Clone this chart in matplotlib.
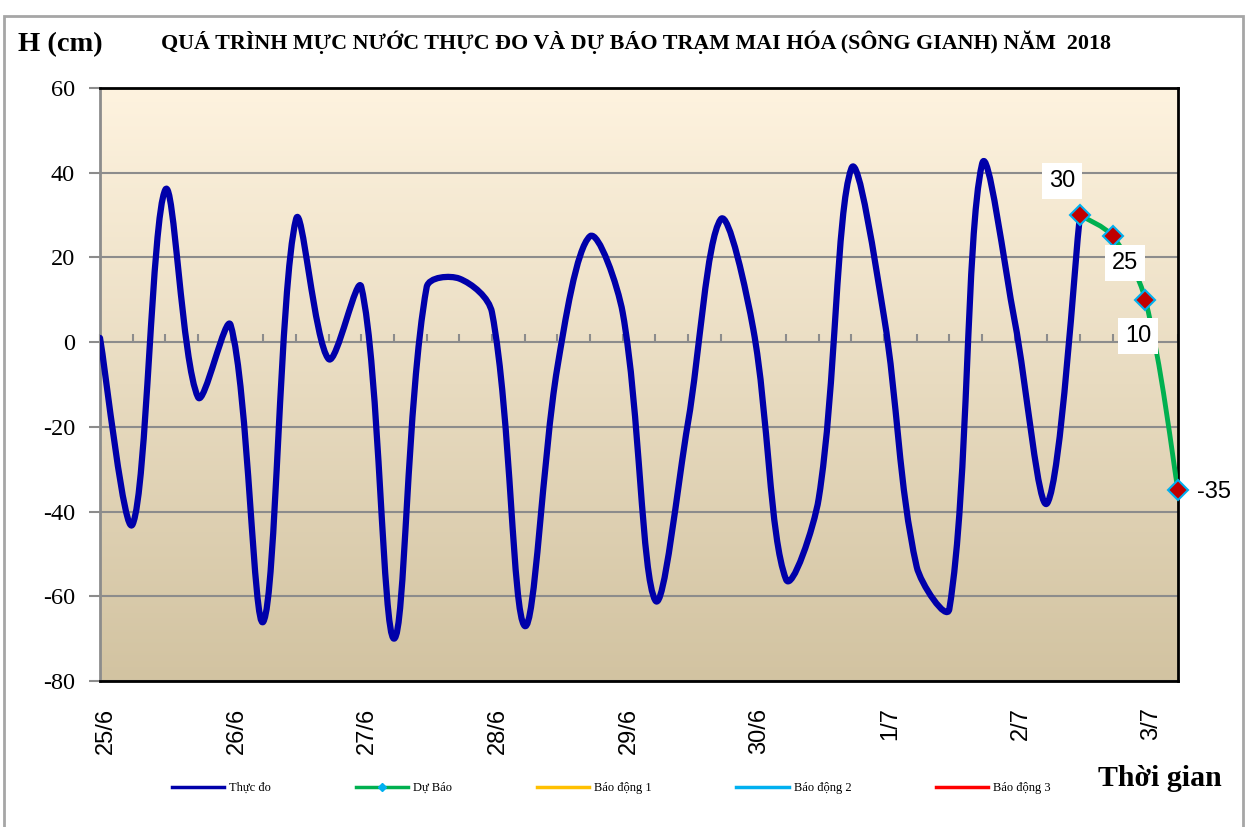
import numpy as np
import matplotlib
matplotlib.use('Agg')
import matplotlib.pyplot as plt
from matplotlib.path import Path
from matplotlib.patches import PathPatch, Rectangle
from matplotlib.lines import Line2D
from matplotlib.transforms import ScaledTranslation

plt.rcParams['axes.unicode_minus'] = False

# 6-hourly points, labels every 4 points (one per day)
days = ['25/6', '26/6', '27/6', '28/6', '29/6', '30/6', '1/7', '2/7', '3/7']
thuc_do = [1, -43, 36, -13, 4, -66, 29, -4, 13, -70, 13, 15, 7, -67, -6, 25, 7,
           -61, -19, 29, 3, -56, -37, 41, 6, -53, -63, 42, 5, -38, 30]
du_bao = [30, 25, 10, -35]
du_bao_start = 30
n_points = 34

serif = ['Liberation Serif', 'DejaVu Serif']
sans = ['Liberation Sans', 'DejaVu Sans']

# pixel size of one x step / one y unit, used for the smoothing weights
SX = 1078 / 33
SY = 593 / 140


def smooth_path(x, y, f=1 / 3):
    # excel-like smoothed line: bezier, tangents weighted by segment lengths
    p = np.column_stack([x, y]).astype(float)
    n = len(p)
    d = np.hypot(np.diff(p[:, 0]) * SX, np.diff(p[:, 1]) * SY)
    c_out = np.zeros_like(p)
    c_in = np.zeros_like(p)
    c_out[0] = p[0] + (p[1] - p[0]) / 6
    c_in[-1] = p[-1] - (p[-1] - p[-2]) / 6
    for i in range(1, n - 1):
        t = p[i + 1] - p[i - 1]
        tot = d[i - 1] + d[i]
        c_out[i] = p[i] + t * f * d[i] / tot
        c_in[i] = p[i] - t * f * d[i - 1] / tot
    verts = [p[0]]
    codes = [Path.MOVETO]
    for i in range(n - 1):
        verts += [c_out[i], c_in[i + 1], p[i + 1]]
        codes += [Path.CURVE4] * 3
    return Path(verts, codes)


fig = plt.figure(figsize=(12.49, 8.27), dpi=100)
fig.patch.set_facecolor('white')
ax = fig.add_axes([100 / 1249, 1 - 681 / 827, 1078 / 1249, 593 / 827])

ax.set_xlim(0, n_points - 1)
ax.set_ylim(-80, 60)

# gradient background
grad = np.linspace(0, 1, 256).reshape(-1, 1)
top = np.array([254, 243, 223]) / 255
bot = np.array([210, 195, 161]) / 255
img = top + (bot - top) * grad[..., None]
ax.imshow(img, extent=[0, n_points - 1, -80, 60], aspect='auto', zorder=0,
          origin='upper')

ax.set_yticks(np.arange(-80, 61, 20))
ax.yaxis.grid(True, color='#8c8c8c', lw=1.5, zorder=1)
ax.set_axisbelow(True)
ax.tick_params(axis='y', direction='out', length=8, width=1.5, color='#8c8c8c',
               labelsize=17.5, pad=10, labelfontfamily=serif)

ax.set_xticks(np.arange(0, n_points, 4))
ax.set_xticklabels(days, rotation=90, fontsize=17, fontfamily=sans)
ax.tick_params(axis='x', length=0, pad=19)
shift = ScaledTranslation(6 / 100, 0, fig.dpi_scale_trans)
for lab in ax.get_xticklabels():
    lab.set_transform(lab.get_transform() + shift)

for s in ['top', 'right', 'bottom']:
    ax.spines[s].set_color('black')
    ax.spines[s].set_linewidth(2)
ax.spines['left'].set_color('#8c8c8c')
ax.spines['left'].set_linewidth(2)

# category axis crossing at 0
sec = ax.secondary_xaxis(80 / 140)
sec.set_xticks(np.arange(n_points))
sec.set_xticklabels([])
sec.tick_params(direction='out', length=6, width=1.5, color='#8c8c8c')
sec.spines['top'].set_visible(False)
sec.spines['bottom'].set_visible(False)

# observed line
x_obs = np.arange(len(thuc_do))
ax.add_patch(PathPatch(smooth_path(x_obs, thuc_do), fill=False, ec='#0000aa',
                       lw=4.5, zorder=3, capstyle='round', joinstyle='round'))

# forecast line
x_fc = np.arange(du_bao_start, du_bao_start + len(du_bao))
ax.add_patch(PathPatch(smooth_path(x_fc, du_bao), fill=False, ec='#00b050',
                       lw=3.5, zorder=4))
ax.plot(x_fc, du_bao, ls='none', marker='D', ms=10, mfc='#c00000',
        mec='#00b0f0', mew=1.5, zorder=5, clip_on=False)

offsets = [(-18, 34), (12, -27), (-7, -36), (36, -2)]
for xi, yi, off in zip(x_fc, du_bao, offsets):
    ax.annotate(str(yi), (xi, yi), xytext=off, textcoords='offset pixels',
                ha='center', va='center', fontsize=17, fontfamily=sans,
                bbox=dict(fc='white', ec='none', pad=5), zorder=6,
                annotation_clip=False)

# legend
handles = [
    Line2D([], [], color='#0000aa', lw=2.5),
    Line2D([], [], color='#00b050', lw=2.5, marker='D', ms=4, mfc='#00b0f0',
           mec='#00b0f0'),
    Line2D([], [], color='#ffc000', lw=2.5),
    Line2D([], [], color='#00b0f0', lw=2.5),
    Line2D([], [], color='#ff0000', lw=2.5),
]
labels = ['Thực đo', 'Dự Báo', 'Báo động 1', 'Báo động 2', 'Báo động 3']
fig.legend(handles, labels, loc='center left', ncol=5, frameon=False,
           bbox_to_anchor=(167 / 1249, 1 - 788 / 827), borderaxespad=0,
           prop={'family': serif, 'size': 9}, handlelength=4.2,
           handletextpad=0.4, columnspacing=6.75)

fig.text(636 / 1249, 1 - 42 / 827,
         'QUÁ TRÌNH MỰC NƯỚC THỰC ĐO VÀ DỰ BÁO TRẠM MAI HÓA (SÔNG GIANH) NĂM  2018',
         ha='center', va='center', fontsize=15.8, fontweight='bold',
         fontfamily=serif)
fig.text(18 / 1249, 1 - 45 / 827, 'H (cm)', ha='left', va='center',
         fontsize=20.5, fontweight='bold', fontfamily=serif)
fig.text(1098 / 1249, 1 - 778 / 827, 'Thời gian', ha='left', va='center',
         fontsize=21.5, fontweight='bold', fontfamily=serif)

fig.add_artist(Rectangle((4 / 1249, -0.02), 1239 / 1249, 1.01 - 8 / 827,
                         transform=fig.transFigure, fill=False,
                         ec='#a6a6a6', lw=2))

fig.savefig('out.png', dpi=100)
